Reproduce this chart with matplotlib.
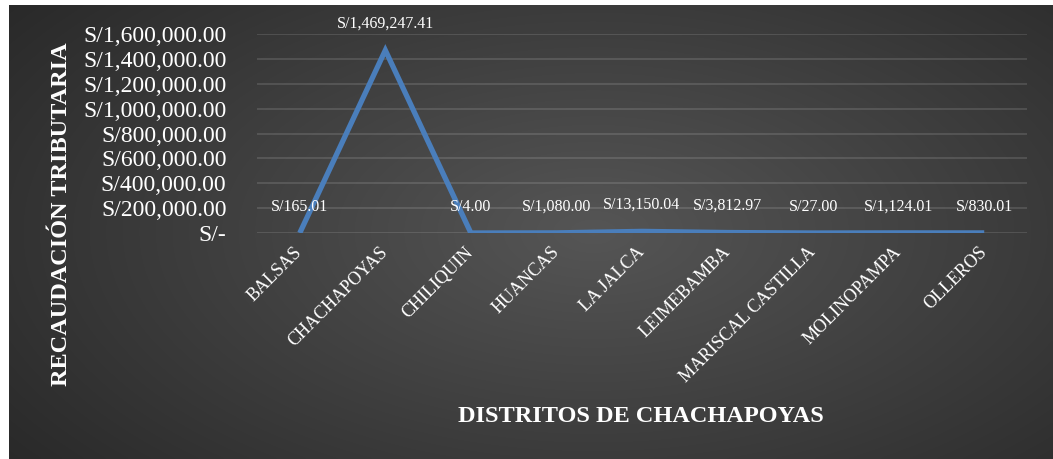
import numpy as np
import matplotlib.pyplot as plt
from matplotlib.ticker import FuncFormatter

distritos = ['BALSAS', 'CHACHAPOYAS', 'CHILIQUIN', 'HUANCAS', 'LA JALCA',
             'LEIMEBAMBA', 'MARISCAL CASTILLA', 'MOLINOPAMPA', 'OLLEROS']
recaudacion = [165.01, 1469247.41, 4.00, 1080.00, 13150.04,
               3812.97, 27.00, 1124.01, 830.01]
y_ticks = [0, 200000, 400000, 600000, 800000, 1000000, 1200000, 1400000, 1600000]

W, H = 1053, 459
plt.rcParams['font.family'] = ['Liberation Serif', 'DejaVu Serif']

fig = plt.figure(figsize=(W / 100, H / 100), dpi=100, facecolor='white')

# fondo con degradado radial
bg = fig.add_axes([9 / W, 0, (W - 9) / W, (H - 5) / H])
bg.set_axis_off()
gx, gy = np.meshgrid(np.linspace(0, 1, 400), np.linspace(0, 1, 200))
d = np.sqrt(((gx - 0.56) / 0.75) ** 2 + ((gy - 0.5) / 0.9) ** 2)
d = np.clip(d, 0, 1)
lum = 0.335 - (0.335 - 0.15) * d
bg.imshow(np.dstack([lum, lum, lum]), aspect='auto', extent=[0, 1, 0, 1],
          interpolation='bilinear')
bg.set_xlim(0, 1)
bg.set_ylim(0, 1)

ax = fig.add_axes([257 / W, 1 - 233 / H, 770 / W, 199 / H])
ax.patch.set_alpha(0)
x = np.arange(len(distritos))
ax.plot(x, recaudacion, color='#4a7ebb', lw=3.8, solid_capstyle='butt',
        solid_joinstyle='miter', zorder=3)

for xi, v in zip(x, recaudacion):
    ax.annotate(f'S/{v:,.2f}', (xi, v), xytext=(0, 19), textcoords='offset points',
                ha='center', va='center', color='white', fontsize=11.5, zorder=4)

ax.set_xlim(-0.5, len(distritos) - 0.5)
ax.set_ylim(0, 1600000)
ax.set_yticks(y_ticks)
ax.yaxis.set_major_formatter(FuncFormatter(
    lambda v, p: 'S/-' if v == 0 else f'S/{v:,.2f}'))
ax.grid(axis='y', color='white', alpha=0.12, lw=1.5)
ax.set_axisbelow(True)
for s in ax.spines.values():
    s.set_visible(False)
ax.tick_params(axis='y', length=0, pad=22, labelsize=17, labelcolor='white')
ax.tick_params(axis='x', length=0, pad=12, labelsize=13, labelcolor='white')
ax.set_xticks(x)
ax.set_xticklabels(distritos, rotation=45, ha='right', va='center',
                   rotation_mode='anchor')

fig.text(62 / W, 1 - 214 / H, 'RECAUDACIÓN TRIBUTARIA', rotation=90,
         ha='center', va='center', color='white', fontsize=17.5, fontweight='bold')
fig.text(641 / W, 1 - 417 / H, 'DISTRITOS DE CHACHAPOYAS',
         ha='center', va='center', color='white', fontsize=17.5, fontweight='bold')

fig.savefig('out.png', dpi=100, facecolor='white')
